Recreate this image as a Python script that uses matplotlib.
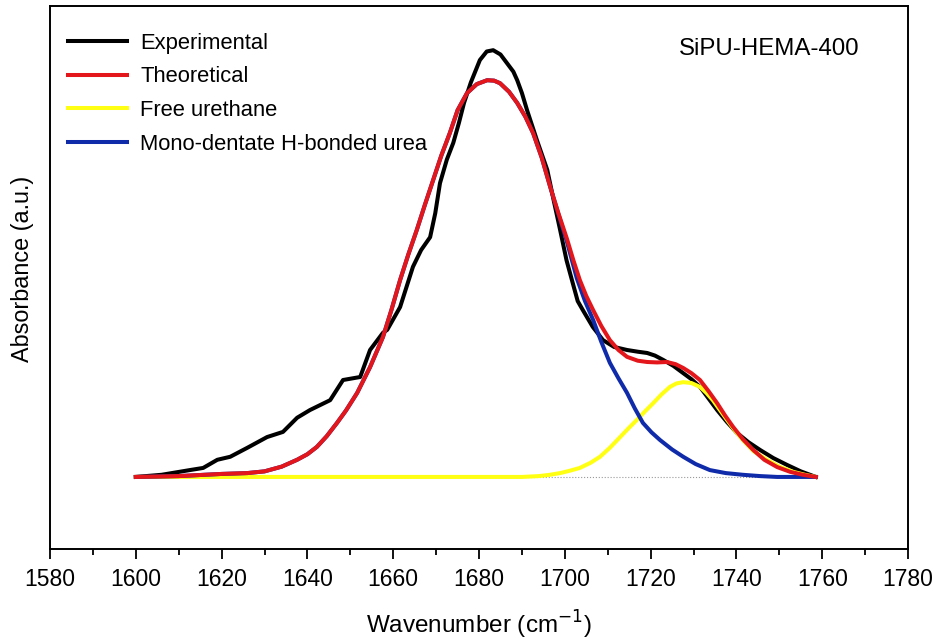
import matplotlib.pyplot as plt
from matplotlib.ticker import MultipleLocator

plt.rcParams['font.family'] = ['Liberation Sans', 'DejaVu Sans']

# values (absorbance, arbitrary units, experimental peak = 100)
exp_x = [1600, 1606, 1612.6, 1615.7, 1619, 1622, 1626, 1630.6, 1634.3, 1637.6, 1640.6,
         1645.3, 1648.3, 1652.3, 1654.6, 1657.6, 1658.6, 1661.6, 1664.6, 1666.5, 1668.6,
         1669.8, 1670.9, 1672.5, 1674, 1675.3, 1676.5, 1678.1, 1680.2, 1681.8, 1683.3,
         1685, 1686.5, 1688, 1688.9, 1690, 1691.2, 1693.5, 1695.9, 1697.4, 1698.9,
         1700.4, 1701.9, 1703, 1704.2, 1706.5, 1708.9, 1711.5, 1714.5, 1717, 1719.2,
         1721, 1722.9, 1725.3, 1727.6, 1729.5, 1731.5, 1733.5, 1735.5, 1737.8, 1740.1,
         1742.8, 1745.5, 1748.6, 1751.8, 1755, 1758.5]
exp_y = [0, 0.5, 1.6, 2.1, 4.0, 4.7, 6.8, 9.3, 10.5, 13.8, 15.6,
         17.9, 22.6, 23.3, 29.6, 33.6, 34.3, 39.6, 49.0, 52.9, 55.9,
         61.5, 68.5, 74.0, 77.9, 82.5, 87.2, 92.0, 97.2, 99.2, 99.5,
         98.5, 96.5, 94.5, 92.5, 89.5, 85.5, 78.5, 71.6, 64.5, 57.6,
         50.5, 45.0, 41.0, 38.9, 35.0, 31.9, 30.3, 29.6, 29.2, 28.9,
         28.3, 27.3, 25.9, 24.2, 22.8, 21.0, 18.3, 15.6, 12.8, 10.3,
         8.1, 6.3, 4.4, 2.8, 1.3, 0]

theo_x = [1600, 1610, 1620, 1626, 1630, 1634, 1637.6, 1640, 1642.2, 1644.5, 1646.9,
          1649, 1651.6, 1654.6, 1657.6, 1659.6, 1661.6, 1663.5, 1665.5, 1667.4, 1669.3,
          1671.2, 1673.2, 1675, 1677.2, 1679.5, 1681.9, 1683.5, 1684.9, 1687, 1688.9,
          1690.8, 1692.6, 1694.6, 1696.6, 1698.5, 1700.5, 1702, 1703.5, 1705, 1706.6,
          1708.5, 1710.5, 1712.5, 1714.5, 1717, 1719.2, 1721.5, 1723.8, 1725.8, 1727.6,
          1729.5, 1731.5, 1733.5, 1735.5, 1737.3, 1739.2, 1741.5, 1743.9, 1746.5, 1749.5,
          1752.5, 1755.5, 1758.5]
theo_y = [0, 0.2, 0.7, 0.9, 1.3, 2.4, 4.0, 5.3, 7.0, 9.5, 12.6,
          15.5, 19.6, 25.6, 32.6, 39.0, 45.9, 51.8, 57.6, 63.5, 69.2,
          74.9, 80.2, 85.5, 89.5, 91.6, 92.5, 92.4, 91.8, 89.8, 87.2,
          84.0, 80.2, 74.5, 67.6, 61.5, 55.5, 50.5, 45.9, 42.2, 38.9,
          35.2, 31.9, 29.6, 28.0, 27.1, 26.8, 26.7, 26.8, 26.3, 25.4,
          24.2, 22.6, 20.0, 17.2, 14.4, 11.7, 8.8, 6.3, 4.0, 2.3,
          1.2, 0.5, 0]

urethane_x = [1600, 1690, 1694, 1696.5, 1698.9, 1701, 1703.5, 1706, 1708.2, 1710.5,
              1712.9, 1714.8, 1716.8, 1718.7, 1720.6, 1722.5, 1724.5, 1726, 1727.6,
              1729.5, 1731.5, 1733, 1734.5, 1736, 1737.8, 1739.6, 1741.5, 1744, 1747.1,
              1750, 1753.2, 1756, 1758.5]
urethane_y = [0, 0, 0.2, 0.5, 0.9, 1.4, 2.1, 3.3, 4.7, 6.8,
              9.3, 11.3, 13.3, 15.3, 17.2, 19.2, 21.0, 21.8, 22.1,
              21.9, 21.0, 19.6, 17.9, 15.8, 13.3, 10.9, 8.6, 6.0, 4.0,
              2.4, 1.2, 0.5, 0]

urea_x = [1600, 1610, 1620, 1626, 1630, 1634, 1637.6, 1640, 1642.2, 1644.5, 1646.9,
          1649, 1651.6, 1654.6, 1657.6, 1659.6, 1661.6, 1663.5, 1665.5, 1667.4, 1669.3,
          1671.2, 1673.2, 1675, 1677.2, 1679.5, 1681.9, 1683.5, 1684.9, 1687, 1688.9,
          1690.8, 1692.6, 1694.6, 1696.6, 1698.5, 1700.5, 1702.8, 1704.7, 1706.6, 1708.5,
          1710.5, 1712.5, 1714.5, 1716.3, 1718.2, 1720.2, 1722.2, 1725, 1727.6, 1730.5,
          1733.8, 1737.5, 1741.5, 1745.5, 1749.5, 1758.5]
urea_y = [0, 0.2, 0.7, 0.9, 1.3, 2.4, 4.0, 5.3, 7.0, 9.5, 12.6,
          15.5, 19.6, 25.6, 32.6, 39.0, 45.9, 51.8, 57.6, 63.5, 69.2,
          74.9, 80.2, 85.5, 89.5, 91.6, 92.5, 92.4, 91.8, 89.8, 87.2,
          84.0, 80.2, 74.5, 67.6, 61.3, 54.8, 46.3, 41.0, 36.6, 31.5,
          26.6, 23.0, 19.6, 16.0, 12.6, 10.4, 8.6, 6.4, 4.7, 3.0,
          1.6, 0.9, 0.5, 0.2, 0, 0]

baseline_x = [1600, 1758.5]
baseline_y = [0, 0]

fig = plt.figure(figsize=(9.4, 6.4), dpi=100)
ax = fig.add_axes([0.0532, 0.1422, 0.9128, 0.8484])

style = dict(lw=2.9, solid_joinstyle='round')
ax.plot(baseline_x, baseline_y, color='#999999', lw=0.8, ls=':', zorder=1)
l_exp, = ax.plot(exp_x, exp_y, color='black', zorder=2, label='Experimental', **style)
l_ure, = ax.plot(urethane_x, urethane_y, color='#FFFF14', zorder=3, label='Free urethane', **style)
l_urea, = ax.plot(urea_x, urea_y, color='#0F2BAA', zorder=4,
                  label='Mono-dentate H-bonded urea', **style)
l_theo, = ax.plot(theo_x, theo_y, color='#E3161B', zorder=5, label='Theoretical', **style)

ax.set_xlim(1580, 1780)
ax.set_ylim(-16.8, 109.8)
ax.xaxis.set_major_locator(MultipleLocator(20))
ax.xaxis.set_minor_locator(MultipleLocator(10))
ax.tick_params(axis='x', which='major', direction='out', length=7.5, width=1.3,
               labelsize=16.5, pad=6)
ax.tick_params(axis='x', which='minor', direction='out', length=4, width=1.3)
ax.set_yticks([])
for s in ax.spines.values():
    s.set_linewidth(1.4)

ax.set_xlabel('Wavenumber (cm$^{-1}$)', fontsize=17.5, labelpad=13)
ax.set_ylabel('Absorbance (a.u.)', fontsize=16.8)
ax.yaxis.set_label_coords(-0.019, 0.515)

ax.text(0.944, 0.921, 'SiPU-HEMA-400', transform=ax.transAxes, fontsize=17.3,
        ha='right', va='center')

ax.legend(handles=[l_exp, l_theo, l_ure, l_urea], loc='upper left',
          bbox_to_anchor=(0.021, 0.951), frameon=False, fontsize=15.8,
          handlelength=2.68, handletextpad=0.62, labelspacing=0.58,
          borderaxespad=0, borderpad=0)

fig.savefig('out.png', dpi=100)
